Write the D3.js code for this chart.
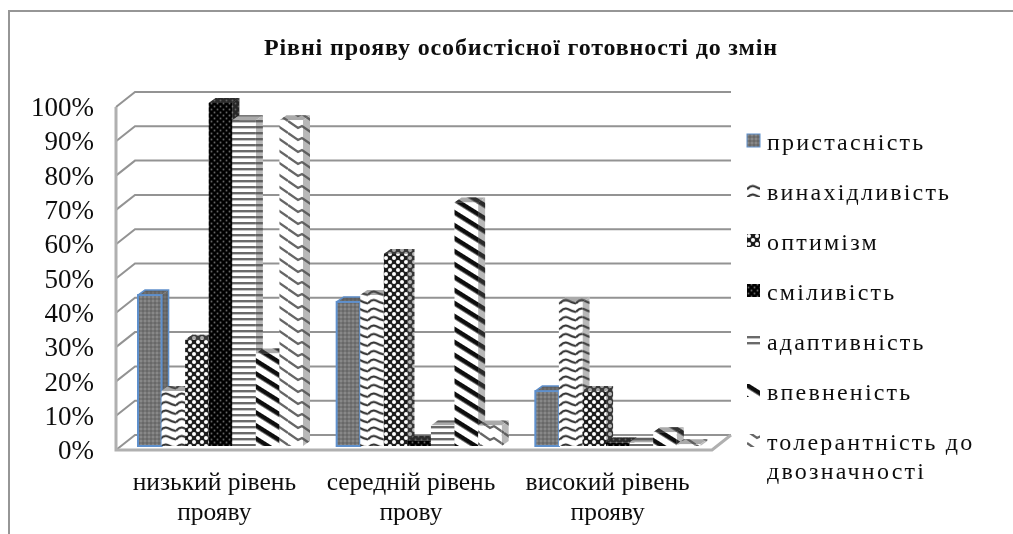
<!DOCTYPE html>
<html lang="uk">
  <head>
    <meta charset="UTF-8" />
    <title>Рівні прояву</title>
    <script src="https://cdn.jsdelivr.net/npm/d3@7"></script>
    <style>
      html, body { margin: 0; background: #fff; }
      svg { display: block; }
      text { font-family: "Liberation Serif", serif; fill: #111; }
    </style>
  </head>
  <body>
    <div id="chart"></div>
    <script>
      const chartTitle = "Рівні прояву особистісної готовності до змін";
      const categories = ["низький рівень прояву", "середній рівень прову", "високий рівень прояву"];
      const categoryLines = [["низький рівень", "прояву"], ["середній рівень", "прову"], ["високий рівень", "прояву"]];
      const seriesNames = ["пристасність", "винахідливість", "оптимізм", "сміливість", "адаптивність", "впевненість", "толерантність до двозначності"];
      const legendLines = [["пристасність"], ["винахідливість"], ["оптимізм"], ["сміливість"], ["адаптивність"], ["впевненість"], ["толерантність до", "двозначності"]];
      const pristasnist = [44, 42, 16];
      const vynakhidlyvist = [16, 44, 42];
      const optymizm = [31, 56, 16];
      const smilyvist = [100, 1.5, 1];
      const adaptyvnist = [95, 6, 1];
      const vpevnenist = [27, 71, 4];
      const tolerantnist = [95, 6, 0.5];
      const allSeries = [pristasnist, vynakhidlyvist, optymizm, smilyvist, adaptyvnist, vpevnenist, tolerantnist];
      const yTicks = [0, 10, 20, 30, 40, 50, 60, 70, 80, 90, 100];

      const width = 1013;
      const height = 534;

      // oblique box of the 3d chart: front edge and back wall
      const depth = { x: 19, y: -15 };
      const barDepth = { x: 7, y: -5 };
      const barInset = { x: 6, y: -4 };

      const svg = d3.select("#chart").append("svg").attr("width", width).attr("height", height);
      const defs = svg.append("defs");

      defs.append("filter").attr("id", "soft").append("feGaussianBlur").attr("stdDeviation", 0.6);
      defs.append("filter").attr("id", "softText").append("feGaussianBlur").attr("stdDeviation", 0.3);

      function addPattern(id, w, h, bg, draw, transform) {
        const p = defs.append("pattern")
          .attr("id", id)
          .attr("patternUnits", "userSpaceOnUse")
          .attr("width", w)
          .attr("height", h);
        if (transform) p.attr("patternTransform", transform);
        p.append("rect").attr("width", w).attr("height", h).attr("fill", bg);
        draw(p);
      }

      const dots = (p, pts, r, fill) => pts.forEach(([x, y]) => p.append("circle").attr("cx", x).attr("cy", y).attr("r", r).attr("fill", fill));
      const stroke = (p, d, color, w) => p.append("path").attr("d", d).attr("fill", "none").attr("stroke", color).attr("stroke-width", w);

      addPattern("p0", 4, 4, "#757575", (p) => { dots(p, [[1, 1]], 0.8, "#a0a0a0"); dots(p, [[3, 3]], 0.8, "#555"); });
      addPattern("p1", 16, 8.5, "#fff", (p) => { stroke(p, "M0 6 Q4 1 8 3 Q12 5 16 6", "#333", 2.2); });
      addPattern("p2", 8, 8, "#1e1e1e", (p) => dots(p, [[2, 2], [6, 6]], 2, "#fff"));
      addPattern("p3", 6, 6, "#030303", (p) => dots(p, [[1.5, 1.5], [4.5, 4.5]], 0.9, "#666"));
      addPattern("p4", 20, 6, "#fff", (p) => { p.append("rect").attr("width", 20).attr("height", 2.4).attr("fill", "#6a6a6a"); });
      addPattern("p5", 20, 11, "#fff", (p) => { p.append("rect").attr("y", 3).attr("width", 20).attr("height", 4.6).attr("fill", "#0c0c0c"); }, "rotate(32)");
      addPattern("p6", 24, 12, "#fff", (p) => { stroke(p, "M0 1 L10 8 L14 6 L24 13 M0 -11 L10 -4 L14 -6 L24 1", "#666", 2.3); });

      const x = d3.scaleBand().domain(categories).range([116, 712]);
      const xLabel = d3.scaleBand().domain(categories).range([116, 706]);
      const xInner = d3.scaleBand().domain(seriesNames).range([22, 187]);
      const yFront = d3.scaleLinear().domain([0, 100]).range([450, 107]);
      const yBar = d3.scaleLinear().domain([0, 100]).range([450 + barInset.y, 107 + barInset.y]);

      // walls and gridlines
      const wall = svg.append("g").attr("filter", "url(#soft)");
      wall.selectAll("path.grid")
        .data(yTicks)
        .join("path")
        .attr("class", "grid")
        .attr("d", (d) => d3.line()([[116, yFront(d)], [116 + depth.x, yFront(d) + depth.y], [712 + depth.x, yFront(d) + depth.y]]))
        .attr("fill", "none")
        .attr("stroke", "#939393")
        .attr("stroke-width", 2);
      wall.append("path")
        .attr("d", d3.line()([[116, yFront(100)], [116, yFront(0)], [712, yFront(0)], [712 + depth.x, yFront(0) + depth.y]]))
        .attr("fill", "none")
        .attr("stroke", "#b0b0b0")
        .attr("stroke-width", 3);

      // bars, drawn left to right so that each one covers the side of the previous one
      const bars = svg.append("g").attr("filter", "url(#soft)");
      categories.forEach((cat, c) => {
        seriesNames.forEach((name, s) => {
          const v = allSeries[s][c];
          const x0 = x(cat) + xInner(name);
          const x1 = x0 + xInner.bandwidth();
          const y0 = yBar(0);
          const y1 = yBar(v);
          const dx = barDepth.x;
          const dy = barDepth.y;
          const g = bars.append("g");
          const fill = `url(#p${s})`;
          const faces = [
            { pts: [[x1, y0], [x1 + dx, y0 + dy], [x1 + dx, y1 + dy], [x1, y1]], shade: 0.42 },
            { pts: [[x0, y1], [x0 + dx, y1 + dy], [x1 + dx, y1 + dy], [x1, y1]], shade: 0.5 },
          ];
          faces.forEach((f) => {
            g.append("polygon").attr("points", f.pts.join(" ")).attr("fill", fill);
            g.append("polygon").attr("points", f.pts.join(" ")).attr("fill", "#555").attr("fill-opacity", f.shade);
          });
          const front = g.append("rect")
            .attr("x", x0)
            .attr("y", y1)
            .attr("width", xInner.bandwidth())
            .attr("height", y0 - y1)
            .attr("fill", fill);
          if (s === 0) {
            front.attr("stroke", "#5f90cc").attr("stroke-width", 2);
            g.append("polyline")
              .attr("points", [[x1, y0], [x1 + dx, y0 + dy], [x1 + dx, y1 + dy], [x0 + dx, y1 + dy], [x0, y1]].join(" "))
              .attr("fill", "none")
              .attr("stroke", "#5f90cc")
              .attr("stroke-width", 1.5);
          }
        });
      });

      const textLayer = svg.append("g").attr("filter", "url(#softText)");

      // axes
      const yAxis = textLayer.append("g")
        .attr("transform", "translate(100,0)")
        .call(d3.axisLeft(yFront).tickValues(yTicks).tickFormat((d) => d + "%").tickSize(0).tickPadding(6));
      yAxis.select(".domain").remove();
      yAxis.selectAll("text").style("font-family", '"Liberation Serif", serif').style("font-size", "27px").attr("fill", "#111");

      const xAxis = textLayer.append("g")
        .attr("transform", "translate(0,450)")
        .call(d3.axisBottom(xLabel).tickSize(0).tickFormat(""));
      xAxis.select(".domain").remove();
      xAxis.selectAll(".tick").each(function (d, i) {
        const t = d3.select(this).select("text")
          .attr("y", 0)
          .attr("dy", null)
          .style("font-family", '"Liberation Serif", serif')
          .style("font-size", "25.5px")
          .attr("fill", "#111");
        categoryLines[i].forEach((line, k) => {
          t.append("tspan").attr("x", 0).attr("y", 40 + k * 30).text(line);
        });
      });

      textLayer.append("text")
        .attr("x", 521)
        .attr("y", 55)
        .attr("text-anchor", "middle")
        .attr("font-weight", "bold")
        .attr("font-size", 24)
        .attr("letter-spacing", 0.85)
        .text(chartTitle);

      // frame, only top and left are visible
      svg.append("path")
        .attr("d", d3.line()([[9, height], [9, 11], [width, 11]]))
        .attr("fill", "none")
        .attr("stroke", "#969696")
        .attr("stroke-width", 2);

      // legend
      const legendY = d3.scalePoint().domain(seriesNames).range([142, 442]);
      const legend = textLayer.append("g")
        .selectAll("g")
        .data(seriesNames)
        .join("g")
        .attr("transform", (d) => `translate(747,${legendY(d)})`);
      legend.append("rect")
        .attr("y", -8)
        .attr("width", 13)
        .attr("height", 13)
        .attr("fill", (d, i) => `url(#p${i})`)
        .attr("stroke", (d, i) => (i === 0 ? "#5f90cc" : "none"));
      legend.append("text")
        .attr("x", 20)
        .attr("y", 8)
        .attr("font-size", 24)
        .attr("letter-spacing", 2.2)
        .selectAll("tspan")
        .data((d, i) => legendLines[i])
        .join("tspan")
        .attr("x", 20)
        .attr("dy", (d, i) => (i ? 29 : 0))
        .text((d) => d);
    </script>
  </body>
</html>
